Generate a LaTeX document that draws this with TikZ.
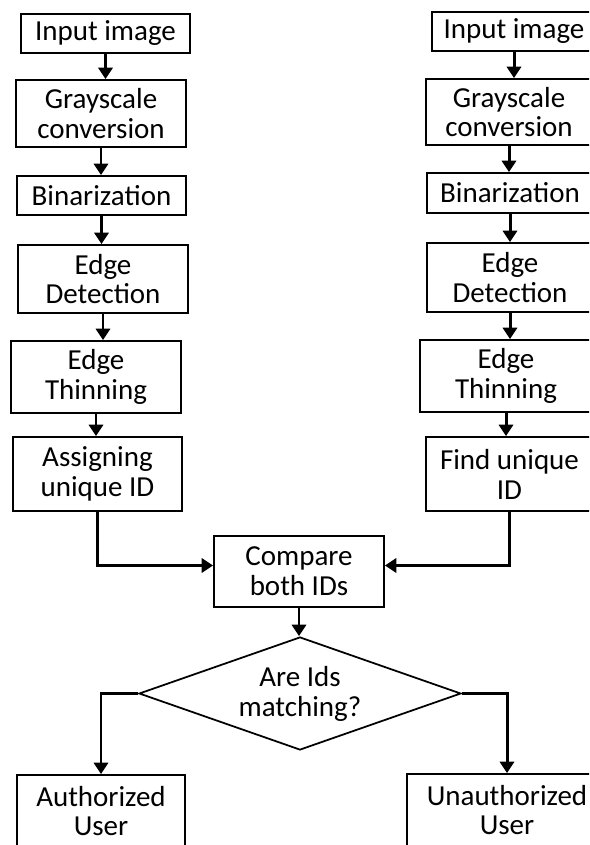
\documentclass[tikz,border=0pt]{standalone}
\usepackage{fontspec}
\setmainfont{Carlito}
\usetikzlibrary{arrows.meta,shapes.geometric}

\begin{document}
\begin{tikzpicture}[x=0.02cm,y=-0.02cm,>={Triangle[width=8pt,length=6.5pt]},
  box/.style={draw,line width=1pt,align=center,inner sep=0pt,font=\fontsize{16.5}{17}\selectfont},
  decision/.style={box,diamond,aspect=2.85,inner sep=0pt},
  flow/.style={->,line width=1.7pt}]
\clip (0,0) rectangle (589,845);
% first image
\node[box,minimum width=3.38cm,minimum height=0.78cm] (in1) at (105.5,33.5) {Input image};
\node[box,minimum width=3.4cm,minimum height=1.34cm] (gr1) at (101,113.5) {Grayscale\\conversion};
\node[box,minimum width=3.38cm,minimum height=0.78cm] (bi1) at (101.5,195.5) {Binarization};
\node[box,minimum width=3.4cm,minimum height=1.36cm] (ed1) at (103,279) {Edge\\Detection};
\node[box,minimum width=3.4cm,minimum height=1.44cm] (et1) at (96,377) {Edge\\Thinning};
\node[box,minimum width=3.38cm,minimum height=1.48cm] (id1) at (97.5,474) {Assigning\\unique ID};
% second image
\node[box,minimum width=3.28cm,minimum height=0.78cm] (in2) at (514,31.5) {Input image};
\node[box,minimum width=3.32cm,minimum height=1.32cm] (gr2) at (509,112) {Grayscale\\conversion};
\node[box,minimum width=3.32cm,minimum height=0.8cm] (bi2) at (510,193) {Binarization};
\node[box,minimum width=3.32cm,minimum height=1.38cm] (ed2) at (510,277.5) {Edge\\Detection};
\node[box,minimum width=3.44cm,minimum height=1.44cm] (et2) at (506,376) {Edge\\Thinning};
\node[box,minimum width=3.34cm,minimum height=1.48cm] (id2) at (509.5,474) {Find unique\\ID};
% matching
\node[box,minimum width=3.4cm,minimum height=1.42cm] (cmp) at (299,571.5) {Compare\\both IDs};
\node[decision,minimum width=6.44cm,minimum height=2.26cm] (dia) at (300,693.5) {Are Ids\\matching?};
\node[box,minimum width=3.36cm,minimum height=1.44cm] (auth) at (101,811) {Authorized\\User};
\node[box,minimum width=4cm,minimum height=1.44cm] (unauth) at (507,810) {Unauthorized\\User};

\draw[flow] (in1) -- (in1 |- gr1.north);
\draw[flow] (gr1) -- (gr1 |- bi1.north);
\draw[flow] (bi1) -- (bi1 |- ed1.north);
\draw[flow] (ed1) -- (ed1 |- et1.north);
\draw[flow] (et1) -- (et1 |- id1.north);
\draw[flow] (in2) -- (in2 |- gr2.north);
\draw[flow] (gr2) -- (gr2 |- bi2.north);
\draw[flow] (bi2) -- (bi2 |- ed2.north);
\draw[flow] (ed2) -- (ed2 |- et2.north);
\draw[flow] (et2) -- (et2 |- id2.north);
\draw[flow] (id1) |- (cmp.176);
\draw[flow] (id2) |- (cmp.4);
\draw[flow] (cmp) -- (cmp |- dia.north);
\draw[flow] (dia.west) -| (auth);
\draw[flow] (dia.east) -| (unauth);
\end{tikzpicture}
\end{document}
